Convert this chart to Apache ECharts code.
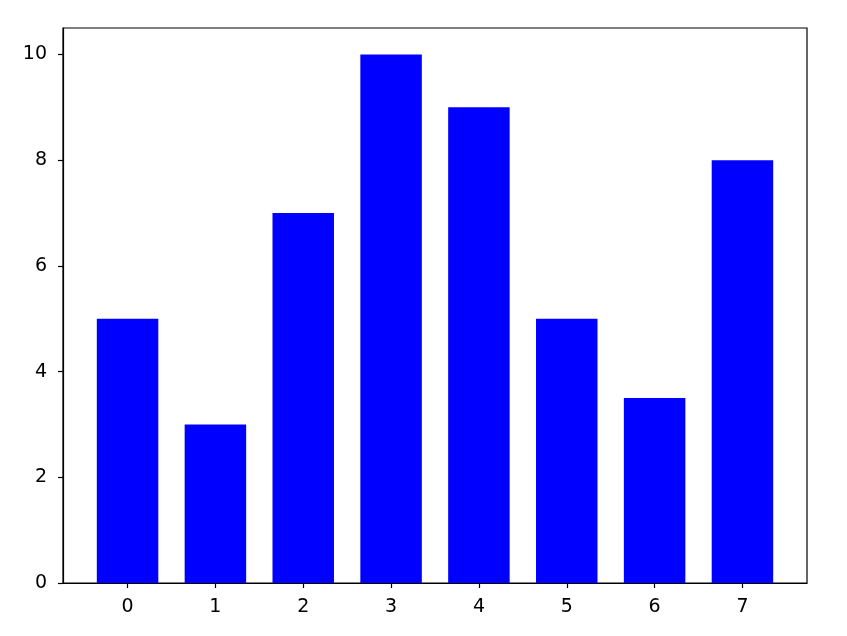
<!DOCTYPE html>
<html>
<head>
<meta charset="utf-8">
<script src="https://cdn.jsdelivr.net/npm/echarts@6/dist/echarts.min.js"></script>
<style>html,body{margin:0;padding:0;background:#fff}#c{width:847px;height:636px}</style>
</head>
<body>
<div id="c"></div>
<script>
const categories = [0, 1, 2, 3, 4, 5, 6, 7];
const values = [5, 3, 7, 10, 9, 5, 3.5, 8];
const yTicks = [0, 2, 4, 6, 8, 10];

const chart = echarts.init(document.getElementById('c'), null, {renderer: 'canvas'});
const halfWidth = 0.35;
const font = 'DejaVu Sans';
chart.setOption({
  animation: false,
  backgroundColor: '#ffffff',
  grid: {left: 63, right: 40, top: 28, bottom: 53, show: true, borderColor: '#000', borderWidth: 1.2, containLabel: false},
  xAxis: {
    type: 'value', min: -0.735, max: 7.735,
    splitLine: {show: false},
    axisLine: {show: true, onZero: false, lineStyle: {color: '#000', width: 1.2}},
    axisTick: {show: true, length: 5, inside: false, customValues: categories, lineStyle: {color: '#000', width: 1.2}},
    axisLabel: {customValues: categories, color: '#000', fontFamily: font, fontSize: 19, margin: 15}
  },
  yAxis: {
    type: 'value', min: 0, max: 10.5,
    splitLine: {show: false},
    axisLine: {show: true, onZero: false, lineStyle: {color: '#000', width: 1.2}},
    axisTick: {show: true, length: 5, customValues: yTicks, lineStyle: {color: '#000', width: 1.2}},
    axisLabel: {customValues: yTicks, color: '#000', fontFamily: font, fontSize: 19, margin: 16}
  },
  series: [{
    type: 'custom',
    data: categories.map((c, i) => [c, values[i]]),
    renderItem: function (params, api) {
      const x = api.value(0), y = api.value(1);
      const p1 = api.coord([x - halfWidth, y]);
      const p2 = api.coord([x + halfWidth, 0]);
      return {type: 'rect', shape: {x: p1[0], y: p1[1], width: p2[0] - p1[0], height: p2[1] - p1[1]}, style: {fill: '#0000ff'}};
    }
  }]
});
</script>
</body>
</html>
